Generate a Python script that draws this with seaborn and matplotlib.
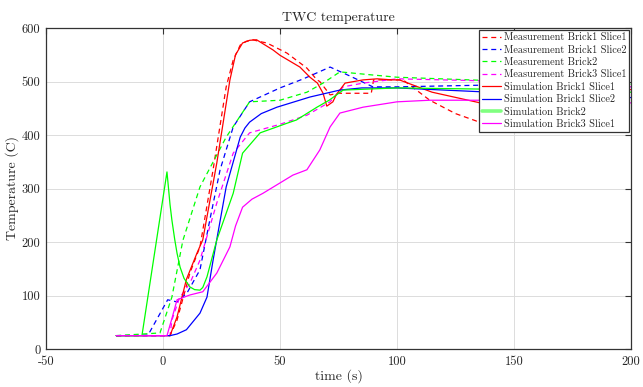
import numpy as np
import pandas as pd
import matplotlib
matplotlib.use("Agg")
import matplotlib.pyplot as plt
import seaborn as sns

# ---- data ----
t_mb1s1 = [-20, 3, 6, 11.5, 15.8, 21.4, 27, 30, 33, 35.5, 38.5, 41, 44.4, 53, 61.5, 65.8, 67, 71.4, 75, 89, 90, 102.6, 114, 125, 134, 145, 160, 180, 200]
y_mb1s1 = [25, 25, 54, 142, 191, 335, 490, 540, 568, 575, 578, 575, 572, 553, 525, 503, 500, 475, 478, 478, 503, 503, 465, 440, 426, 425, 440, 475, 500]

t_mb1s2 = [-20, -6.4, 2, 6, 10.3, 15.8, 20, 24.4, 30, 37, 50, 60, 71.4, 80, 89.7, 100, 135, 200]
y_mb1s2 = [25, 26, 92, 88, 105, 148, 241, 335, 415, 462, 488, 505, 527, 510, 490, 490, 493, 490]

t_mb2 = [-20, -1.3, 1, 3.8, 8.5, 15.8, 27, 37, 50, 61.5, 68.4, 75.6, 90, 100, 150, 200]
y_mb2 = [25, 30, 60, 97, 203, 303, 396, 462, 465, 480, 497, 518, 512, 508, 500, 495]

t_mb3s1 = [-20, 3, 3.8, 7, 11.5, 15.8, 23, 30, 37, 50, 61.5, 71.4, 77, 85.5, 100, 150, 200]
y_mb3s1 = [25, 25, 54, 95, 123, 166, 273, 366, 404, 420, 437, 462, 490, 497, 505, 500, 490]

t_sb1s1 = [-20, 3, 6, 10, 14.5, 17, 23, 28.6, 31, 34, 37, 40, 47, 50, 58.5, 62.8, 66, 68.4, 70, 72.6, 74, 77.8, 85.5, 91.5, 98, 101, 115, 139.7, 170, 200]
y_sb1s1 = [25, 25, 60, 130, 179, 204, 348, 503, 550, 572, 577, 578, 559, 549, 527, 508, 497, 478, 454, 462, 475, 497, 503, 505, 503, 503, 480, 456, 470, 485]

t_sb1s2 = [-20, 3, 6, 10, 15.8, 18.8, 21.4, 27, 33, 35, 37, 42, 48.7, 62.8, 75.6, 85, 100, 150, 200]
y_sb1s2 = [25, 25, 28, 36, 67, 97, 166, 303, 396, 413, 424, 440, 452, 471, 484, 488, 488, 478, 470]

t_sb2 = [-20, -9, 1.7, 3, 3.8, 5, 6, 7.3, 9, 11.5, 13.5, 15.8, 17, 18.8, 23, 30, 34, 41.5, 53, 57, 65.8, 71, 77, 100, 150, 200]
y_sb2 = [25, 25, 331, 270, 241, 205, 179, 153, 132, 116, 111, 110, 115, 135, 204, 291, 366, 404, 422, 428, 452, 465, 484, 488, 485, 480]

t_sb3s1 = [-20, 1.7, 4, 6, 11.5, 17, 23, 28.6, 31, 34, 38, 42.7, 55.5, 61.5, 67, 71.4, 75.6, 85.5, 100, 114, 150, 200]
y_sb3s1 = [25, 25, 60, 92, 101, 107, 142, 191, 230, 265, 280, 291, 325, 335, 372, 415, 441, 452, 462, 465, 465, 460]

labels = ["Measurement Brick1 Slice1", "Measurement Brick1 Slice2",
          "Measurement Brick2", "Measurement Brick3 Slice1",
          "Simulation Brick1 Slice1", "Simulation Brick1 Slice2",
          "Simulation Brick2", "Simulation Brick3 Slice1"]
x_ticks = [-50, 0, 50, 100, 150, 200]
y_ticks = [0, 100, 200, 300, 400, 500, 600]

series = [(t_mb1s1, y_mb1s1), (t_mb1s2, y_mb1s2), (t_mb2, y_mb2), (t_mb3s1, y_mb3s1),
          (t_sb1s1, y_sb1s1), (t_sb1s2, y_sb1s2), (t_sb2, y_sb2), (t_sb3s1, y_sb3s1)]
colors = ["#ff0000", "#0000ff", "#00ff00", "#ff00ff",
          "#ff0000", "#0000ff", "#00ff00", "#ff00ff"]
styles = ["--", "--", "--", "--", "-", "-", "-", "-"]

sns.set_style("whitegrid")
plt.rcParams['font.family'] = ['cmr10', 'DejaVu Serif']
plt.rcParams['axes.unicode_minus'] = False
plt.rcParams['mathtext.fontset'] = 'cm'

fig = plt.figure(figsize=(6.43, 3.87), dpi=100)
ax = fig.add_axes([46/643, 1-349/387, (631-46)/643, (349-28)/387])

for (t, y), lab, c, ls in zip(series, labels, colors, styles):
    df = pd.DataFrame({"t": t, "y": y})
    sns.lineplot(data=df, x="t", y="y", ax=ax, color=c, linewidth=0.9,
                 label=lab, sort=False)
    ax.lines[-1].set_linestyle(ls)
    if ls == "--":
        ax.lines[-1].set_dashes((4, 3))

ax.set_xlim(-50, 200)
ax.set_ylim(0, 600)
ax.set_xticks(x_ticks)
ax.set_yticks(y_ticks)
ax.set_xlabel("time (s)", fontsize=10, labelpad=1)
ax.set_ylabel("Temperature (C)", fontsize=10, labelpad=2)
ax.set_title("TWC temperature", fontsize=10, pad=5)
ax.grid(True, color="#dcdcdc", linewidth=0.7)
ax.tick_params(axis="both", which="both", direction="in", length=4, width=0.8,
               top=True, right=True, labelsize=9, color="#333333")
ax.tick_params(axis="x", pad=5)
ax.tick_params(axis="y", pad=4)
for sp in ax.spines.values():
    sp.set_visible(True)
    sp.set_color("#333333")
    sp.set_linewidth(0.9)

leg = ax.legend(loc="upper right", fontsize=7.4, frameon=True, fancybox=False,
                framealpha=1, edgecolor="#333333", borderpad=0.3,
                handlelength=1.8, handletextpad=0.3, labelspacing=0.28,
                borderaxespad=0.15)
leg.get_frame().set_linewidth(0.9)
hl = leg.get_lines()
hl[6].set_linewidth(2.6)
hl[6].set_color("#80ff80")

fig.savefig("out.png", dpi=100)
